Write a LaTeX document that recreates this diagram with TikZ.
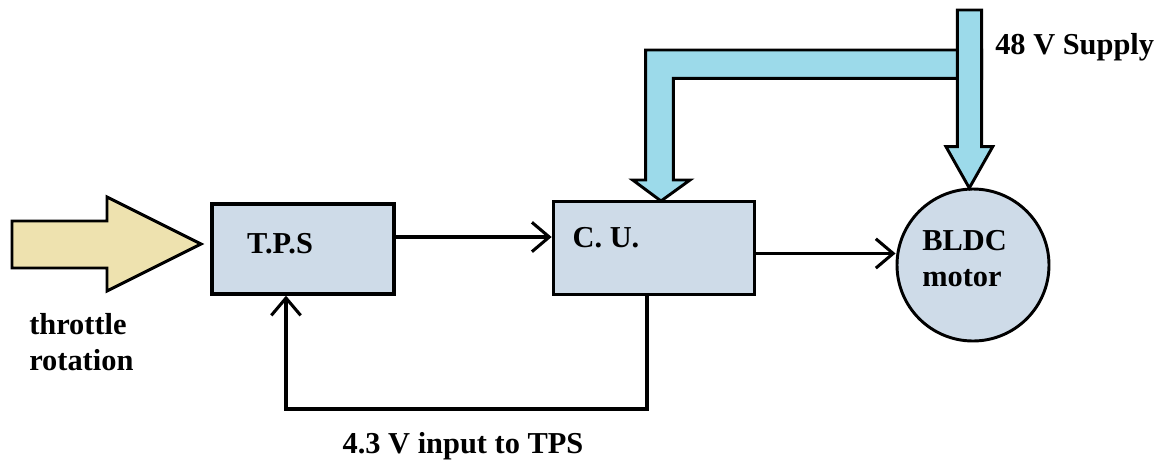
\documentclass[tikz,border=0pt]{standalone}
\usepackage{fontspec}
\setmainfont{Liberation Serif}
\usetikzlibrary{arrows.meta,shapes.geometric}
\definecolor{boxfill}{RGB}{206,219,232}
\definecolor{beige}{RGB}{238,226,175}
\definecolor{pipe}{RGB}{156,218,234}
\tikzset{
  blk/.style={draw=black,line width=2.5pt,fill=boxfill,inner sep=0pt},
  lbl/.style={font=\bfseries\fontsize{22.8}{27.5}\selectfont,text=black,inner sep=0pt},
  wire/.style={draw=black,line width=2.3pt},
  wirearrow/.style={wire,-{Straight Barb[length=13pt,width=22pt,line width=2.3pt]}},
  bigarrow/.style={draw=black,line width=2.2pt,line join=miter}
}
\begin{document}
\begin{tikzpicture}[x=0.75pt,y=-0.75pt]
\useasboundingbox (0,0) rectangle (1161,462);

% throttle input arrow
\draw[bigarrow,fill=beige] (12,221) -- (107,221) -- (107,197) -- (201,244) -- (107,291) -- (107,268) -- (12,268) -- cycle;

% blocks
\node[blk,minimum width=136.5pt,minimum height=67.5pt] (tps) at (303,249) {};
\node[blk,minimum width=150.75pt,minimum height=69.5pt] (cu) at (653.8,248) {};
\node[blk,circle,minimum size=114pt,line width=2.2pt] (motor) at (973,265) {};

% supply arrows
\draw[bigarrow,fill=pipe] (981.7,50) -- (645.7,50) -- (645.7,180) -- (632.7,180) -- (661,201) -- (690,180) -- (673.3,180) -- (673.3,78.3) -- (981.7,78.3) -- cycle;
\draw[bigarrow,fill=pipe] (957.3,10) -- (981.7,10) -- (981.7,146.7) -- (992.7,146.7) -- (969.3,188) -- (946,146.7) -- (957.3,146.7) -- cycle;

% labels
\node[lbl] (tpst) at (280,244) {T.P.S};
\node[lbl] (cut) at (606,238) {C. U.};
\node[lbl,align=left] (motort) at (964.5,258.5) {BLDC\\motor};
\node[lbl,align=left,anchor=west] (thr) at (29,342) {throttle\\rotation};
\node[lbl,anchor=base west] (sup) at (995,54) {48 V Supply};
\node[lbl,anchor=base] (fbt) at (463,453) {4.3 V input to TPS};

% connectors
\draw[wirearrow] ([yshift=9pt]tps.east) -- ([yshift=9pt]tps.east -| cu.west);
\draw[wirearrow] ([yshift=-4.1pt]cu.east) -- ([yshift=-4.1pt]cu.east -| motor.west);
\coordinate (fbr) at (647,409);
\coordinate (fbl) at (286,409);
\draw[wirearrow] (cu.south -| fbr) -- (fbr) -- (fbl) -- (fbl |- tps.south);
\end{tikzpicture}
\end{document}
